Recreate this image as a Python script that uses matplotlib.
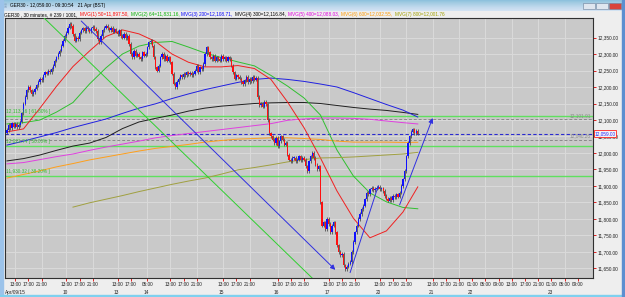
import matplotlib.pyplot as plt
import numpy as np
from matplotlib.patches import Rectangle

plt.rcParams['font.family'] = ['Liberation Sans', 'DejaVu Sans']

# ---- data: GER30 30 minute bars, Apr 9 -> Apr 21 2015 ----
first_open = 12062
closes = [
    12070, 12085, 12075, 12090, 12080, 12088, 12078, 12085, 12095,
    12120, 12150, 12170, 12190, 12200,
    12190, 12178, 12185, 12195,
    12205, 12215, 12225, 12220,
    12235, 12245, 12240, 12250, 12245, 12255,
    12265, 12280, 12290, 12300, 12310,
    12325, 12340, 12355, 12365,
    12380, 12392, 12385,
    12360, 12340, 12350, 12345, 12365,
    12372, 12378, 12370, 12380, 12375, 12368, 12378, 12382, 12376,
    12370, 12345, 12335, 12355, 12372, 12380,
    12385, 12378, 12372, 12380, 12368, 12375,
    12368, 12360, 12372, 12355, 12350, 12362, 12348, 12355,
    12330, 12300, 12290, 12310, 12295,
    12300, 12290, 12285, 12305, 12295, 12300,
    12320, 12335, 12340, 12325,
    12290, 12260, 12250, 12265,
    12290, 12300, 12285, 12295, 12280, 12290, 12275,
    12240, 12210, 12200, 12215,
    12225, 12235, 12230, 12240, 12235, 12245, 12238, 12242, 12236, 12240,
    12250, 12265, 12245, 12260, 12255, 12270,
    12300, 12320, 12305,
    12290, 12285, 12295, 12280, 12290, 12285, 12280, 12295, 12285, 12290, 12280, 12290, 12285,
    12265, 12245, 12225, 12235, 12230,
    12225, 12215, 12208, 12220, 12230, 12215, 12225, 12218, 12230, 12222, 12228,
    12170, 12145, 12150, 12140, 12155, 12148,
    12100, 12060, 12050,
    12040, 12030, 12045, 12020, 12035, 12050, 12040, 12025, 12030,
    11995, 11980, 11975, 11985,
    11985, 11975, 11980, 11990, 11978, 11985, 11980,
    11960, 11945, 11975, 11990, 12000, 11985, 11965, 11950, 11960,
    11850, 11780,
    11790, 11770, 11800, 11785, 11760, 11780, 11790, 11760,
    11720, 11700, 11690, 11695,
    11660, 11648, 11655, 11665, 11670,
    11700, 11730, 11760, 11780, 11800, 11815, 11830, 11840,
    11860, 11880, 11875, 11890, 11895, 11888,
    11892, 11895, 11898, 11890, 11893, 11885,
    11870, 11862, 11855, 11865, 11858, 11870, 11866, 11875, 11868,
    11880, 11900, 11920, 11945, 11990, 12030, 12050,
    12065, 12072, 12060, 12068, 12059,
]

# moving averages read every 10 bars
ma_bars = list(range(0, 250, 10)) + [249]
ma_red = [12064, 12073, 12136, 12202, 12262, 12309, 12353, 12373, 12361, 12338, 12300, 12275, 12261,
          12261, 12265, 12256, 12223, 12155, 12077, 11985, 11885, 11802, 11743, 11764, 11821, 11897.5]
ma_green = [12088, 12092, 12100, 12124, 12153, 12209, 12258, 12300, 12324, 12335, 12338, 12321, 12303,
            12289, 12276, 12264, 12235, 12203, 12167, 12115, 12009, 11930, 11879, 11852, 11835, 11831]
ma_blue = [12024, 12036, 12049, 12062, 12077, 12090, 12103, 12120, 12136, 12149, 12165, 12179, 12192,
           12203, 12214, 12223, 12227, 12223, 12217, 12209, 12200, 12183, 12165, 12147, 12130, 12109]
ma_black = [11976, 11983, 11994, 12008, 12021, 12030, 12047, 12074, 12094, 12105, 12115, 12127, 12136,
            12142, 12146, 12150, 12152, 12153, 12153, 12150, 12144, 12138, 12133, 12129, 12123, 12117]
ma_magenta = [11967, 11971, 11980, 11989, 11997, 12008, 12018, 12027, 12036, 12046, 12053, 12059, 12065,
              12071, 12077, 12083, 12089, 12099, 12103, 12106, 12106, 12105, 12102, 12097, 12092, 12088]
ma_orange = [11924, 11935, 11946, 11958, 11968, 11979, 11988, 11997, 12006, 12014, 12020, 12026, 12033,
             12038, 12042, 12044, 12046, 12046, 12044, 12041, 12036, 12033, 12033, 12033, 12032, 12032.5]
olive_bars = list(range(40, 250, 10)) + [249]
ma_olive = [11836, 11849, 11860, 11871, 11883, 11894, 11905, 11915, 11924, 11936, 11949, 11956, 11964,
            11973, 11980, 11985, 11986, 11988, 11991, 11994, 11997, 12002]

fib_levels = [12113.16, 12021.74, 11930.32]
fib_labels = ['12,113.16 [ 61.80% ]', '12,021.74 [ 50.00% ]', '11,930.32 [ 38.20% ]']
dashed_levels = [12101.91, 12040.26]
last_price = 12059.00

# trend lines (bar, price) pairs
trend_green = [(22.5, 12409), (185, 11621)]
trend_down = [(45, 12400), (199, 11646)]
trend_low = [(208, 11638), (225, 11900)]
trend_up = [(238, 11843), (258, 12106)]

tick_bars = [5, 13, 21, 36, 44, 52, 67, 75, 85, 99, 107, 115, 131, 139, 147, 164, 172, 180,
             195, 203, 211, 226, 234, 242, 258, 266, 274, 282, 290, 298, 306, 314, 322, 330, 338, 346]
tick_times = ['13:00', '17:00', '21:00', '13:00', '17:00', '21:00', '13:00', '17:00', '05:00',
              '13:00', '17:00', '21:00', '13:00', '17:00', '21:00', '13:00', '17:00', '21:00',
              '13:00', '17:00', '21:00', '13:00', '17:00', '21:00', '13:00', '17:00', '21:00',
              '01:00', '05:00', '09:00', '13:00', '17:00', '21:00', '01:00', '05:00', '09:00']
date_bars = [5, 36, 67, 85, 131, 164, 195, 226, 258, 282, 330]
date_labels = ['Apr/09/15', '10', '13', '14', '15', '16', '17', '20', '21', '22', '23']

info_parts = [('GER30 , 30 minutes, # 239 / 1001,', '#000000'),
              ('MVG(1) 50=11,897.50,', '#ff0000'),
              ('MVG(2) 64=11,831.16,', '#00b000'),
              ('MVG(3) 200=12,108.71,', '#0000ff'),
              ('MVG(4) 300=12,116.84,', '#000000'),
              ('MVG(5) 400=12,088.03,', '#e000e0'),
              ('MVG(6) 600=12,032.55,', '#ff9900'),
              ('MVG(7) 800=12,001.76', '#a0a000')]

W, H = 625, 297
fs = 3.4
fig = plt.figure(figsize=(W / 100, H / 100), dpi=100)
fig.patch.set_facecolor('#eeeeee')

# window chrome
bar_ax = fig.add_axes([0, 1 - 11 / H, 1, 11 / H])
bar_ax.imshow(np.linspace(0, 1, 20).reshape(-1, 1), aspect='auto', cmap='Blues_r',
              vmin=-2.5, vmax=1.8, extent=[0, 1, 0, 1])
bar_ax.set_axis_off()
fig.patches.append(Rectangle((0, 0), 3 / W, 1, transform=fig.transFigure, color='#9cc3ea', zorder=5))
fig.patches.append(Rectangle((0, 0), 1, 2 / H, transform=fig.transFigure, color='#7fd0ee', zorder=5))
fig.patches.append(Rectangle((622 / W, 0), 3 / W, 1, transform=fig.transFigure, color='#5d8fd0', zorder=5))
fig.text(4 / W, 1 - 5.5 / H, '\u2591', fontsize=3, va='center', color='#305080')
fig.text(10 / W, 1 - 5.5 / H, 'GER30 - 12,059.00 - 09:30:54   21 Apr (BST)', fontsize=fs,
         va='center', color='#000000')
for x0, c in [(583, '#dfe6ef'), (596, '#dfe6ef'), (609, '#d9443a')]:
    fig.patches.append(Rectangle((x0 / W, 1 - 9 / H), 12 / W, 6 / H, transform=fig.transFigure,
                                 facecolor=c, edgecolor='#6a7f99', lw=0.4, zorder=6))

ax = fig.add_axes([5 / W, 1 - 278 / H, 588 / W, 260 / H])
ax.set_facecolor('#c9c9c9')
ax.set_xlim(-1.2, 355.2)
ax.set_ylim(11621.2, 12409.1)

yt = np.arange(11650, 12351, 50)
for v in yt:
    ax.axhline(v, color='#dadada', lw=0.7, zorder=0)
for b, t in zip(tick_bars, tick_times):
    if t in ('13:00', '21:00', '05:00'):
        ax.axvline(b, color='#dadada', lw=0.7, zorder=0)

# horizontal levels
for lvl, lab in zip(fib_levels, fib_labels):
    ax.axhline(lvl, color='#5fe05f', lw=1.0, zorder=1)
    ax.text(-0.8, lvl + 5, lab, color='#30c030', fontsize=fs, va='bottom', ha='left', zorder=6)
for lvl in dashed_levels:
    ax.axhline(lvl, color='#8a8a8a', lw=0.7, ls=(0, (3, 2)), zorder=1)
    ax.text(354, lvl + 4, f'{lvl:,.2f}', color='#8a8a8a', fontsize=fs, va='bottom', ha='right')
ax.axhline(last_price, color='#2a2ad0', lw=0.8, ls=(0, (3, 2)), zorder=1)

# moving averages
for vals, col in [(ma_orange, '#ff9f1a'), (ma_magenta, '#e040e0'), (ma_black, '#202020'),
                  (ma_blue, '#2020e0'), (ma_green, '#30c030'), (ma_red, '#f02020')]:
    ax.plot(ma_bars, vals, color=col, lw=0.7, zorder=2)
ax.plot(olive_bars, ma_olive, color='#a0a040', lw=0.7, zorder=2)

# candles
closes = np.array(closes, dtype=float)
opens = np.concatenate([[first_open], closes[:-1]])
idx = np.arange(len(closes))
wick = 5
hi = np.maximum(opens, closes) + wick
lo = np.minimum(opens, closes) - wick
ax.vlines(idx, lo, hi, color='#505050', lw=0.6, zorder=3)
up = closes >= opens
body_lo = np.minimum(opens, closes)
body_h = np.maximum(np.abs(closes - opens), 2)
ax.bar(idx[up], body_h[up], bottom=body_lo[up], width=0.75, color='#1010ff', lw=0, zorder=4)
ax.bar(idx[~up], body_h[~up], bottom=body_lo[~up], width=0.75, color='#ff1010', lw=0, zorder=4)

# trend lines
ax.plot(*zip(*trend_green), color='#30d030', lw=0.7, zorder=5)
ax.plot(*zip(*trend_low), color='#3030e0', lw=0.7, zorder=5)
for seg in (trend_down, trend_up):
    ax.annotate('', xy=seg[1], xytext=seg[0],
                arrowprops=dict(arrowstyle='-|>', color='#3030e0', lw=0.7,
                                mutation_scale=7, shrinkA=0, shrinkB=0), zorder=5)

# axes styling
for s in ax.spines.values():
    s.set_color('#303030')
    s.set_linewidth(0.8)
ax.yaxis.tick_right()
ax.set_yticks(yt)
ax.set_yticklabels([f'{v:,.2f}' for v in yt])
ax.tick_params(axis='y', colors='#e02020', labelcolor='#202020', length=2.5, width=0.7,
               labelsize=fs, pad=0.8)
ax.set_xticks(tick_bars)
ax.set_xticklabels(tick_times)
ax.tick_params(axis='x', colors='#e02020', labelcolor='#202020', length=2, width=0.7,
               labelsize=fs, pad=1.2)
for b, lab in zip(date_bars, date_labels):
    xb = -1.0 if lab.startswith('Apr') else b - 2.5
    ax.text(xb, -0.047, lab, transform=ax.get_xaxis_transform(), fontsize=fs,
            ha='left', va='top', color='#202020')
ax.text(1.0025, last_price, f'{last_price:,.2f}', transform=ax.get_yaxis_transform(),
        fontsize=fs, color='#2020ff', va='center', ha='left', zorder=10,
        bbox=dict(boxstyle='square,pad=0.15', fc='#f4f4f4', ec='#ff2020', lw=0.6))

# info line with coloured parts
fig.canvas.draw()
r = fig.canvas.get_renderer()
x = 4
for s, c in info_parts:
    t = fig.text(x / W, 1 - 14.3 / H, s, color=c, fontsize=fs, va='center')
    x = t.get_window_extent(renderer=r).x1 + 2.2

fig.savefig('out.png', dpi=100)
